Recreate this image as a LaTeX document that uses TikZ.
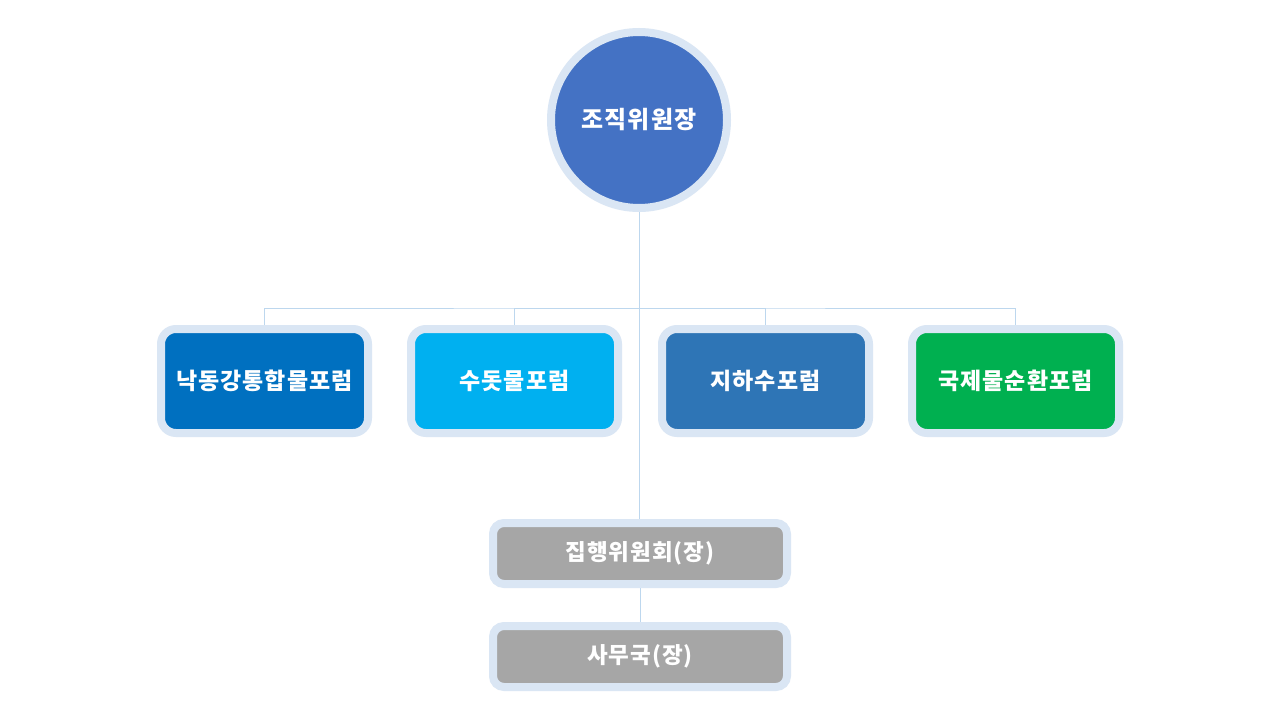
\documentclass[tikz,border=0pt]{standalone}
\usepackage{fontspec}
\setmainfont{Noto Sans CJK KR}[LetterSpace=4]
\usetikzlibrary{backgrounds}
\definecolor{ring}{HTML}{DAE6F4}
\definecolor{conn}{HTML}{BDD7EE}
\definecolor{cchair}{HTML}{4472C4}
\definecolor{cone}{HTML}{0070C0}
\definecolor{ctwo}{HTML}{00B0F0}
\definecolor{cthree}{HTML}{2E75B6}
\definecolor{cfour}{HTML}{00B050}
\definecolor{cgray}{HTML}{A6A6A6}
\tikzset{
  ringed/.style={draw=ring, line width=8pt, text=white, font=\bfseries, inner sep=0pt},
  chairnode/.style={ringed, circle, fill=cchair, minimum size=176pt, font=\bfseries\fontsize{24}{28}\selectfont},
  forum/.style={ringed, rounded corners=15pt, minimum width=207pt, minimum height=104pt, font=\bfseries\fontsize{23}{27}\selectfont},
  office/.style={ringed, rounded corners=11pt, fill=cgray, minimum width=294pt, minimum height=61pt, font=\bfseries\fontsize{22.5}{26}\selectfont},
  link/.style={draw=conn, line width=1pt}
}
\begin{document}
\begin{tikzpicture}[x=1pt,y=-1pt]
\useasboundingbox (0,0) rectangle (1280,720);
\node[chairnode] (chair) at (639,120) {조직위원장};
\node[forum, fill=cone]   (f1) at (264.5,381) {낙동강통합물포럼};
\node[forum, fill=ctwo]   (f2) at (514.5,381) {수돗물포럼};
\node[forum, fill=cthree] (f3) at (765.5,381) {지하수포럼};
\node[forum, fill=cfour]  (f4) at (1015.5,381) {국제물순환포럼};
\node[office] (exec) at (640,553.5) {집행위원회(장)};
\node[office] (sec)  at (640,656.5) {사무국(장)};
\coordinate (bus) at (639,308);
\begin{scope}[on background layer]
\fill[white] (0,0) rectangle (1280,720);
\draw[link] (chair.south) -- (chair.south |- exec.north);
\draw[link] (f1.north) |- (bus) -| (f4.north);
\draw[link] (f2.north) |- (bus);
\draw[link] (f3.north) |- (bus);
\draw[link] (exec.south) -- (sec.north);
\end{scope}
\end{tikzpicture}
\end{document}
